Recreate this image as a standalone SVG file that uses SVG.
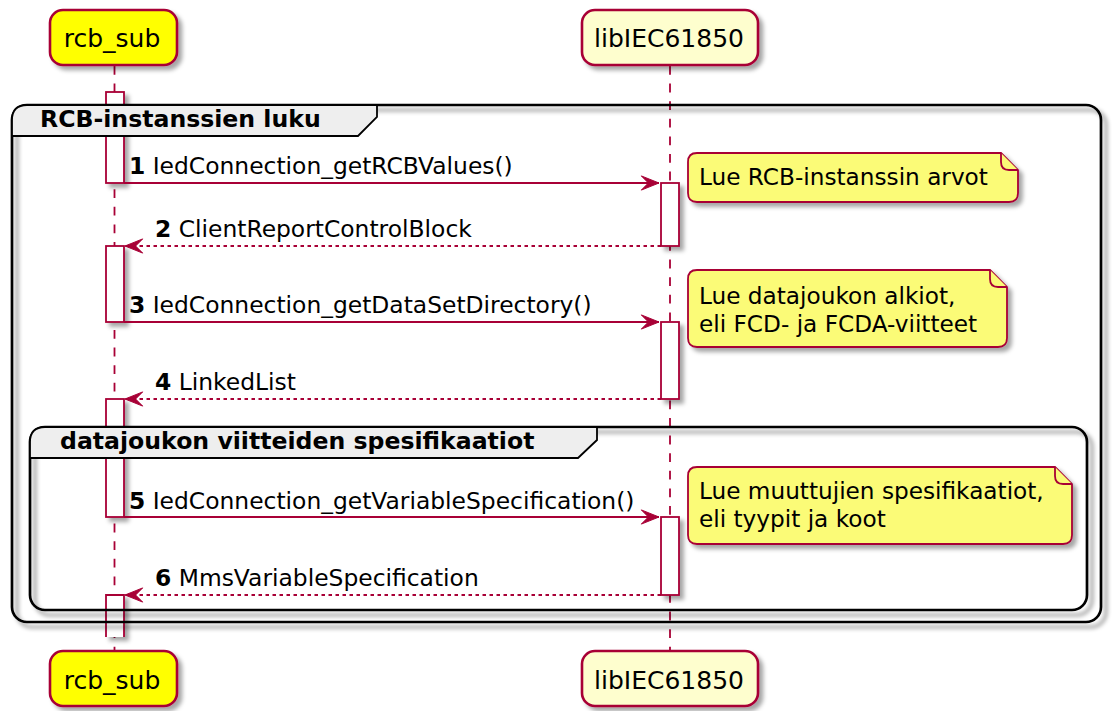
<svg xmlns="http://www.w3.org/2000/svg" width="1112" height="711" viewBox="0 0 1112 711">
<style>
.part{stroke:#A80036;stroke-width:2.6}
.ptxt{font-family:"DejaVu Sans",sans-serif;font-size:25px;fill:#000;text-anchor:middle}
.life{stroke:#A80036;stroke-width:1.8;stroke-dasharray:8.8,8.8;fill:none}
.act{fill:#FFFFFF;stroke:#A80036;stroke-width:1.8}
.frame{fill:none;stroke:#000;stroke-width:2.7}
.tab{fill:#EEEEEE;stroke:#000;stroke-width:1.8}
.gtxt{font-family:"DejaVu Sans",sans-serif;font-size:23.6px;font-weight:bold;fill:#000}
.msg{stroke:#A80036;stroke-width:1.8;fill:none}
.ret{stroke:#A80036;stroke-width:1.8;fill:none;stroke-dasharray:3.5,3.5}
.mtxt{font-family:"DejaVu Sans",sans-serif;font-size:23.4px;fill:#000}
.note{fill:#FBFB77;stroke:#A80036;stroke-width:1.8}
.ntxt{font-family:"DejaVu Sans",sans-serif;font-size:23.2px;fill:#000}
</style>
<defs>
<filter id="sh" x="-10%" y="-10%" width="130%" height="140%">
<feDropShadow dx="4" dy="4" stdDeviation="2.2" flood-color="#000" flood-opacity="0.35"/>
</filter>
<filter id="fsh" x="-5%" y="-5%" width="115%" height="120%">
<feDropShadow dx="5" dy="5" stdDeviation="2" flood-color="#000" flood-opacity="0.45"/>
</filter>
<marker id="ah" markerUnits="userSpaceOnUse" markerWidth="20" markerHeight="16" viewBox="-19 -8 20 16" refX="0" refY="0" orient="auto">
<path d="M0,0 L-17.7,-7.1 L-10.6,0 L-17.7,7.1 Z" fill="#A80036" stroke="#A80036" stroke-width="1"/>
</marker>
</defs>

<g id="lifelines">
<line class="life" x1="114.5" y1="66" x2="114.5" y2="651"/>
<line class="life" x1="670" y1="66" x2="670" y2="651"/>
</g>

<g id="activations" filter="url(#sh)">
<rect class="act" x="106" y="92" width="18" height="91"/>
<rect class="act" x="106" y="246" width="18" height="76"/>
<rect class="act" x="106" y="399" width="18" height="118"/>
<path class="act" d="M106,637 V595 H124 V637"/>
<rect class="act" x="661" y="183" width="18" height="63"/>
<rect class="act" x="661" y="322" width="18" height="77"/>
<rect class="act" x="661" y="517" width="18" height="78"/>
</g>

<g id="group-rcb">
<rect class="frame" x="12" y="105" width="1089" height="517" rx="15" filter="url(#fsh)"/>
<path class="tab" d="M12,136 V120 Q12,105 27,105 H377 V117 L358,136 Z"/>
<text class="gtxt" x="40" y="127">RCB-instanssien luku</text>
</g>

<g id="group-data">
<rect class="frame" x="30" y="427" width="1057" height="183" rx="15" filter="url(#fsh)"/>
<path class="tab" d="M30,458 V442 Q30,427 45,427 H597 V440 L578,458 Z"/>
<text class="gtxt" x="60" y="449">datajoukon viitteiden spesifikaatiot</text>
</g>

<g id="participant-rcb_sub-top">
<rect class="part" x="50" y="10" width="127" height="55" rx="13" fill="#FFFF00" filter="url(#sh)"/>
<text class="ptxt" x="112" y="47">rcb_sub</text>
</g>
<g id="participant-libIEC61850-top">
<rect class="part" x="582" y="10" width="176" height="55" rx="13" fill="#FEFECE" filter="url(#sh)"/>
<text class="ptxt" x="669" y="47">libIEC61850</text>
</g>
<g id="participant-rcb_sub-bottom">
<rect class="part" x="50" y="651" width="127" height="55" rx="13" fill="#FFFF00" filter="url(#sh)"/>
<text class="ptxt" x="112" y="689">rcb_sub</text>
</g>
<g id="participant-libIEC61850-bottom">
<rect class="part" x="582" y="651" width="176" height="55" rx="13" fill="#FEFECE" filter="url(#sh)"/>
<text class="ptxt" x="669" y="689">libIEC61850</text>
</g>

<g id="connectors">
<line class="msg" x1="124" y1="183" x2="659" y2="183" marker-end="url(#ah)"/>
<text class="mtxt" x="129" y="174"><tspan font-weight="bold">1</tspan> IedConnection_getRCBValues()</text>
<line class="ret" x1="661" y1="246" x2="125" y2="246" marker-end="url(#ah)"/>
<text class="mtxt" x="155" y="237"><tspan font-weight="bold">2</tspan> ClientReportControlBlock</text>
<line class="msg" x1="124" y1="322" x2="659" y2="322" marker-end="url(#ah)"/>
<text class="mtxt" x="129" y="313"><tspan font-weight="bold">3</tspan> IedConnection_getDataSetDirectory()</text>
<line class="ret" x1="661" y1="399" x2="125" y2="399" marker-end="url(#ah)"/>
<text class="mtxt" x="155" y="390"><tspan font-weight="bold">4</tspan> LinkedList</text>
<line class="msg" x1="124" y1="517" x2="659" y2="517" marker-end="url(#ah)"/>
<text class="mtxt" x="129" y="509"><tspan font-weight="bold">5</tspan> IedConnection_getVariableSpecification()</text>
<line class="ret" x1="661" y1="595" x2="125" y2="595" marker-end="url(#ah)"/>
<text class="mtxt" x="155" y="586"><tspan font-weight="bold">6</tspan> MmsVariableSpecification</text>
</g>

<g id="note-1">
<path class="note" filter="url(#sh)" d="M697,153 H1001 L1018,170 V193 Q1018,202 1009,202 H697 Q688,202 688,193 V162 Q688,153 697,153 Z"/>
<path class="note" d="M1001,153 V162 Q1001,170 1009,170 H1018"/>
<text class="ntxt" x="699" y="185">Lue RCB-instanssin arvot</text>
</g>
<g id="note-2">
<path class="note" filter="url(#sh)" d="M697,270 H990 L1007,287 V338 Q1007,347 998,347 H697 Q688,347 688,338 V279 Q688,270 697,270 Z"/>
<path class="note" d="M990,270 V279 Q990,287 998,287 H1007"/>
<text class="ntxt" x="699" y="304">Lue datajoukon alkiot,</text>
<text class="ntxt" x="699" y="332">eli FCD- ja FCDA-viitteet</text>
</g>
<g id="note-3">
<path class="note" filter="url(#sh)" d="M697,467 H1055 L1072,484 V535 Q1072,544 1063,544 H697 Q688,544 688,535 V476 Q688,467 697,467 Z"/>
<path class="note" d="M1055,467 V476 Q1055,484 1063,484 H1072"/>
<text class="ntxt" x="699" y="499">Lue muuttujien spesifikaatiot,</text>
<text class="ntxt" x="699" y="527">eli tyypit ja koot</text>
</g>
</svg>
